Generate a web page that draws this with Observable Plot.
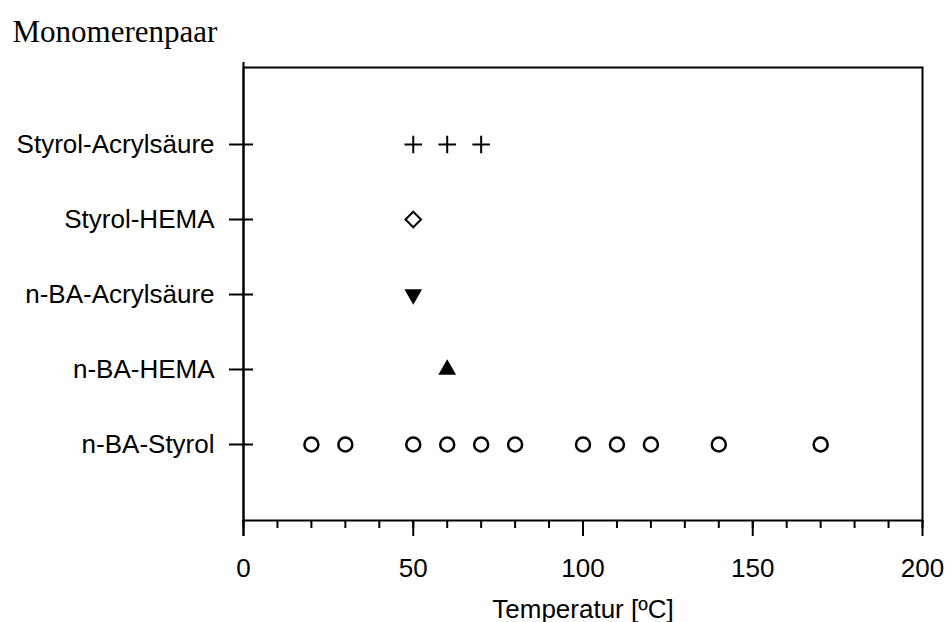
<!DOCTYPE html>
<html><head><meta charset="utf-8">
<script src="https://cdn.jsdelivr.net/npm/d3@7"></script>
<script src="https://cdn.jsdelivr.net/npm/@observablehq/plot@0.6"></script>
<style>body{margin:0;background:#fff}</style>
</head><body><div id="chart"></div>
<script>
const title = "Monomerenpaar";
const xLabel = "Temperatur [ºC]";
const categories = ["Styrol-Acrylsäure", "Styrol-HEMA", "n-BA-Acrylsäure", "n-BA-HEMA", "n-BA-Styrol"];
const xMajorTicks = [0, 50, 100, 150, 200];
const xMinorTicks = [0, 10, 20, 30, 40, 50, 60, 70, 80, 90, 100, 110, 120, 130, 140, 150, 160, 170, 180, 190, 200];
const styrolAcrylsaeure = [50, 60, 70];
const styrolHema = [50];
const nbaAcrylsaeure = [50];
const nbaHema = [60];
const nbaStyrol = [20, 30, 50, 60, 70, 80, 100, 110, 120, 140, 170];

const rows = (name, temps) => temps.map(t => ({pair: name, temp: t}));
const sans = "'Liberation Sans', Arial, sans-serif";

const chart = Plot.plot({
  width: 948, height: 622,
  marginLeft: 243, marginRight: 26, marginTop: 67, marginBottom: 102,
  style: {fontFamily: sans, fontSize: "26px", color: "#000", background: "#fff"},
  x: {domain: [0, 200]},
  y: {type: "point", domain: categories, padding: 1},
  marks: [
    Plot.frame({stroke: "#000", strokeWidth: 2}),
    Plot.ruleX([0], {insetTop: -5, insetBottom: -16, stroke: "#000", strokeWidth: 2}),
    Plot.axisX({ticks: xMinorTicks, tickSize: 8, tickFormat: () => "", label: null, strokeWidth: 2}),
    Plot.axisX({ticks: xMajorTicks, tickSize: 16, tickPadding: 22, label: null, strokeWidth: 2, fontSize: 26, fontFamily: sans}),
    Plot.axisY({tickSize: 14, tickPadding: 15, label: null, strokeWidth: 2, fontSize: 26, fontFamily: sans}),
    Plot.axisY({tickSize: -10, tickFormat: () => "", label: null, strokeWidth: 2}),
    Plot.dot(rows(categories[0], styrolAcrylsaeure), {x: "temp", y: "pair", symbol: "plus", r: 5.7, stroke: "#000", strokeWidth: 2, fill: "none"}),
    Plot.dot(rows(categories[1], styrolHema), {x: "temp", y: "pair", symbol: "diamond2", r: 7, stroke: "#000", strokeWidth: 2, fill: "none"}),
    Plot.dot(rows(categories[2], nbaAcrylsaeure), {x: "temp", y: "pair", symbol: "triangle", r: 6.6, fill: "#000", stroke: "none", rotate: 180}),
    Plot.dot(rows(categories[3], nbaHema), {x: "temp", y: "pair", symbol: "triangle", r: 6.6, fill: "#000", stroke: "none"}),
    Plot.dot(rows(categories[4], nbaStyrol), {x: "temp", y: "pair", symbol: "circle", r: 7, stroke: "#000", strokeWidth: 2.5, fill: "none"}),
    Plot.text([xLabel], {frameAnchor: "bottom", lineAnchor: "bottom", dy: 97, fontSize: 26, fontFamily: sans, fill: "#000"}),
    Plot.text([title], {frameAnchor: "top-left", textAnchor: "start", lineAnchor: "top", dx: -231, dy: -48, fontFamily: "'Liberation Serif', 'Times New Roman', serif", fontSize: 31, fill: "#000"})
  ]
});
document.getElementById("chart").appendChild(chart);
</script>
</body></html>
